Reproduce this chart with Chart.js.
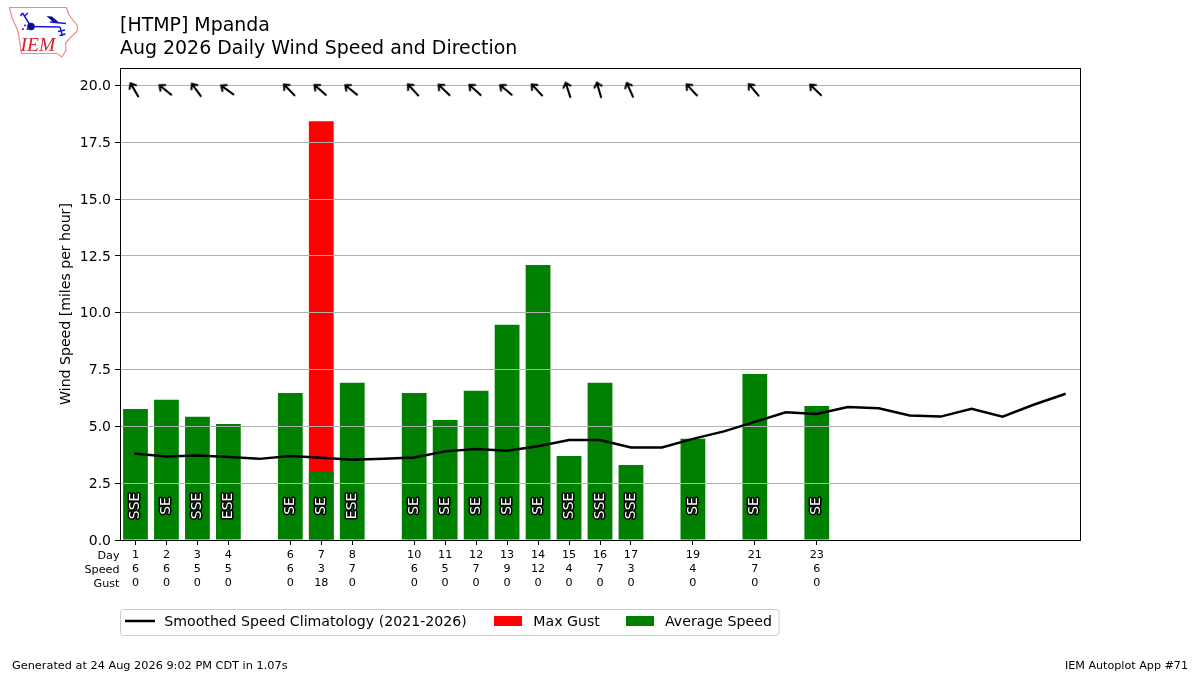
<!DOCTYPE html>
<html>
<head>
<meta charset="utf-8">
<title>Mpanda wind</title>
<script src="https://cdn.jsdelivr.net/npm/chart.js@4"></script>
<style>
html,body{margin:0;padding:0;background:#fff;width:1200px;height:675px;overflow:hidden}
#wrap{position:relative;width:1200px;height:675px}
canvas{position:absolute;left:0;top:0}
svg{position:absolute;left:0;top:0}
</style>
</head>
<body>
<div id="wrap">
<canvas id="c" width="1200" height="675"></canvas>
<svg width="90" height="62" viewBox="0 0 90 62">
  <path d="M9.5 7.5 L66.5 7.5 L68.5 14 L71 17.5 L77.5 26 L77 31.5 L70.5 37.5 L65.5 43 L66 50 L62 57 L57 53.5 L21.5 53.5 L18 31 L12 18 Z" fill="none" stroke="#e98b8b" stroke-width="1.2"/>
  <g stroke="#1818e0" fill="none" stroke-width="1.5">
    <path d="M31 26.5 L60 27"/>
    <path d="M31 26.5 L22.5 13 M22.5 13 L20.5 16 M24.5 16 L28 13"/>
    <path d="M60 27 L62.5 36 M58 31.5 L65 30 M59.5 35.5 L65.5 34"/>
    <path d="M50 22 L66 23.5"/>
  </g>
  <path d="M46.5 16 L52 16.5 L59 22.5 L53 22 Z" fill="#10108c"/>
  <circle cx="31" cy="26.5" r="3.8" fill="#10108c"/>
  <g fill="#3030d8"><circle cx="25" cy="25.5" r="1.1"/><circle cx="23" cy="29" r="1.1"/><circle cx="27.5" cy="29" r="1.1"/></g>
  <text x="20.5" y="51" font-family="Liberation Serif" font-style="italic" font-size="19.5" fill="#d8202a">IEM</text>
</svg>
</div>
<script>
const titleLines = ["[HTMP] Mpanda", "Aug 2026 Daily Wind Speed and Direction"];
const yAxisLabel = "Wind Speed [miles per hour]";
const footerLeft = "Generated at 24 Aug 2026 9:02 PM CDT in 1.07s";
const footerRight = "IEM Autoplot App #71";
const rowHeaders = ["Day", "Speed", "Gust"];
const days = [1,2,3,4,6,7,8,10,11,12,13,14,15,16,17,19,21,23];
const avgSpeed = [5.77,6.17,5.42,5.1,6.47,3.0,6.92,6.47,5.28,6.57,9.47,12.1,3.7,6.92,3.3,4.45,7.3,5.9];
const maxGust = [0,0,0,0,0,18.43,0,0,0,0,0,0,0,0,0,0,0,0];
const speedLabels = [6,6,5,5,6,3,7,6,5,7,9,12,4,7,3,4,7,6];
const gustLabels = [0,0,0,0,0,18,0,0,0,0,0,0,0,0,0,0,0,0];
const dirLabels = ["SSE","SE","SSE","ESE","SE","SE","ESE","SE","SE","SE","SE","SE","SSE","SSE","SSE","SE","SE","SE"];
const arrowDirs = [150,129,144,126,136,131,129,137,134,132,130,137,162,164,156,137,140,134];
const arrowLevel = 19.8;
const dirLabelLevel = 1.5;
const climoDays = [1,2,3,4,5,6,7,8,9,10,11,12,13,14,15,16,17,18,19,20,21,22,23,24,25,26,27,28,29,30,31];
const climoSpeed = [3.8,3.67,3.72,3.65,3.57,3.7,3.62,3.53,3.57,3.63,3.9,4.0,3.93,4.13,4.4,4.4,4.07,4.07,4.45,4.78,5.2,5.62,5.55,5.85,5.8,5.48,5.43,5.77,5.43,5.95,6.42];
const legendLabels = ["Smoothed Speed Climatology (2021-2026)", "Max Gust", "Average Speed"];
const yTickStep = 2.5;
const yMax = 20.77;

const FONT = "DejaVu Sans";

function arrowCanvas(){
  const s = 24, cv = document.createElement('canvas');
  cv.width = s; cv.height = s;
  const g = cv.getContext('2d');
  const c = s/2;
  g.strokeStyle = '#000'; g.lineWidth = 2.1; g.lineCap = 'butt'; g.lineJoin = 'miter';
  g.beginPath(); g.moveTo(c, c+8.2); g.lineTo(c, c-7.6); g.stroke();
  g.beginPath(); g.moveTo(c-4.2, c-2.9); g.lineTo(c, c-7.6); g.lineTo(c+4.2, c-2.9); g.stroke();
  return cv;
}

const overlay = {
  id:'overlay',
  // the arrows and the climatology line sit above the gridlines, so they are drawn after them
  beforeDatasetDraw(chart,args){ if(args.index<2) return false; },
  afterDraw(chart){
    const {ctx,chartArea:a,scales:{x,y}} = chart;
    ctx.save();
    chart.getDatasetMeta(1).controller.draw();
    ctx.save(); ctx.translate(-1,0);
    chart.getDatasetMeta(0).controller.draw();
    ctx.restore();
    // axes frame
    ctx.strokeStyle='#000'; ctx.lineWidth=1;
    ctx.strokeRect(Math.round(a.left)+0.5,Math.round(a.top)+0.5,Math.round(a.right-a.left),Math.round(a.bottom-a.top));
    // direction labels
    ctx.font = '14px "'+FONT+'"'; ctx.textAlign='center'; ctx.textBaseline='middle';
    days.forEach((d,i)=>{
      ctx.save();
      ctx.translate(x.getPixelForValue(d), y.getPixelForValue(dirLabelLevel));
      ctx.rotate(-Math.PI/2);
      ctx.lineJoin='round'; ctx.strokeStyle='#000'; ctx.lineWidth=3;
      ctx.strokeText(dirLabels[i],0,0);
      ctx.fillStyle='#fff'; ctx.fillText(dirLabels[i],0,0);
      ctx.restore();
    });
    // row headers
    ctx.font='11.2px "'+FONT+'"'; ctx.fillStyle='#000'; ctx.textAlign='right'; ctx.textBaseline='middle';
    rowHeaders.forEach((t,i)=>ctx.fillText(t,119.5,556+i*13.8));
    // legend
    ctx.strokeStyle='#ccc'; ctx.lineWidth=1; ctx.fillStyle='#fff';
    ctx.beginPath(); ctx.roundRect(120.5,609.5,658.5,26,3); ctx.fill(); ctx.stroke();
    ctx.strokeStyle='#000'; ctx.lineWidth=2.5;
    ctx.beginPath(); ctx.moveTo(125,621); ctx.lineTo(155,621); ctx.stroke();
    ctx.fillStyle='#f00'; ctx.fillRect(494,616,28,10);
    ctx.fillStyle='#008000'; ctx.fillRect(626,616,28,10);
    ctx.fillStyle='#000'; ctx.font='14.15px "'+FONT+'"'; ctx.textAlign='left'; ctx.textBaseline='middle';
    ctx.fillText(legendLabels[0],164.3,622);
    ctx.fillText(legendLabels[1],533.3,622);
    ctx.fillText(legendLabels[2],665,622);
    // footer
    ctx.font='11.3px "'+FONT+'"';
    ctx.fillText(footerLeft,12,666.5);
    ctx.textAlign='right';
    ctx.font='11.15px "'+FONT+'"';
    ctx.fillText(footerRight,1188,666.5);
    ctx.restore();
  }
};

new Chart(document.getElementById('c'),{
  type:'bar',
  data:{datasets:[
    {type:'scatter',label:'Wind direction',order:0,
     data:days.map(d=>({x:d,y:arrowLevel})),
     pointStyle:arrowCanvas(),rotation:arrowDirs.map(v=>v-180),pointRadius:10},
    {type:'line',label:legendLabels[0],order:1,
     data:climoDays.map((d,i)=>({x:d,y:climoSpeed[i]})),
     borderColor:'#000',backgroundColor:'#000',borderWidth:2.5,borderCapStyle:'square',pointRadius:0,tension:0,fill:false},
    {label:legendLabels[2],order:2,grouped:false,
     data:days.map((d,i)=>({x:d,y:avgSpeed[i]})),
     backgroundColor:'#008000',barPercentage:0.8,categoryPercentage:1,borderWidth:0},
    {label:legendLabels[1],order:3,grouped:false,
     data:days.map((d,i)=>({x:d,y:maxGust[i]})),
     backgroundColor:'#f00',barPercentage:0.8,categoryPercentage:1,borderWidth:0}
  ]},
  options:{
    responsive:false,animation:false,events:[],devicePixelRatio:1,
    layout:{padding:{left:0,right:120,top:0,bottom:0}},
    plugins:{
      legend:{display:false},tooltip:{enabled:false},
      title:{display:true,text:titleLines,align:'start',fullSize:false,color:'#000',
        font:{family:FONT,size:18.95,weight:'normal',lineHeight:23.5/18.95},padding:{top:14,bottom:7}}
    },
    scales:{
      x:{type:'linear',min:0.5,max:31.5,offset:false,
        grid:{offset:false,drawOnChartArea:false,drawTicks:true,tickColor:'#000',tickLength:5},
        border:{display:false},
        afterBuildTicks(s){s.ticks=days.map(d=>({value:d}));},
        afterFit(s){s.height=135;},
        ticks:{autoSkip:false,includeBounds:false,maxRotation:0,minRotation:0,padding:3.5,color:'#000',
          font:{family:FONT,size:11.2,lineHeight:13.8/11.2},
          callback(v,i){return [String(days[i]),String(speedLabels[i]),String(gustLabels[i])];}}
      },
      y:{min:0,max:yMax,
        grid:{color:'#b0b0b0',lineWidth:1,z:1,tickColor:'#000',tickLength:5},
        border:{display:false},
        afterBuildTicks(s){const t=[];for(let v=0;v<=yMax;v+=yTickStep)t.push({value:v});s.ticks=t;},
        afterFit(s){s.width=120;},
        title:{display:true,text:yAxisLabel,color:'#000',font:{family:FONT,size:14.1},padding:{top:58,bottom:0}},
        ticks:{color:'#000',padding:4,labelOffset:1,font:{family:FONT,size:14},callback(v){return Number(v).toFixed(1);}}
      }
    }
  },
  plugins:[overlay]
});
</script>
</body>
</html>
